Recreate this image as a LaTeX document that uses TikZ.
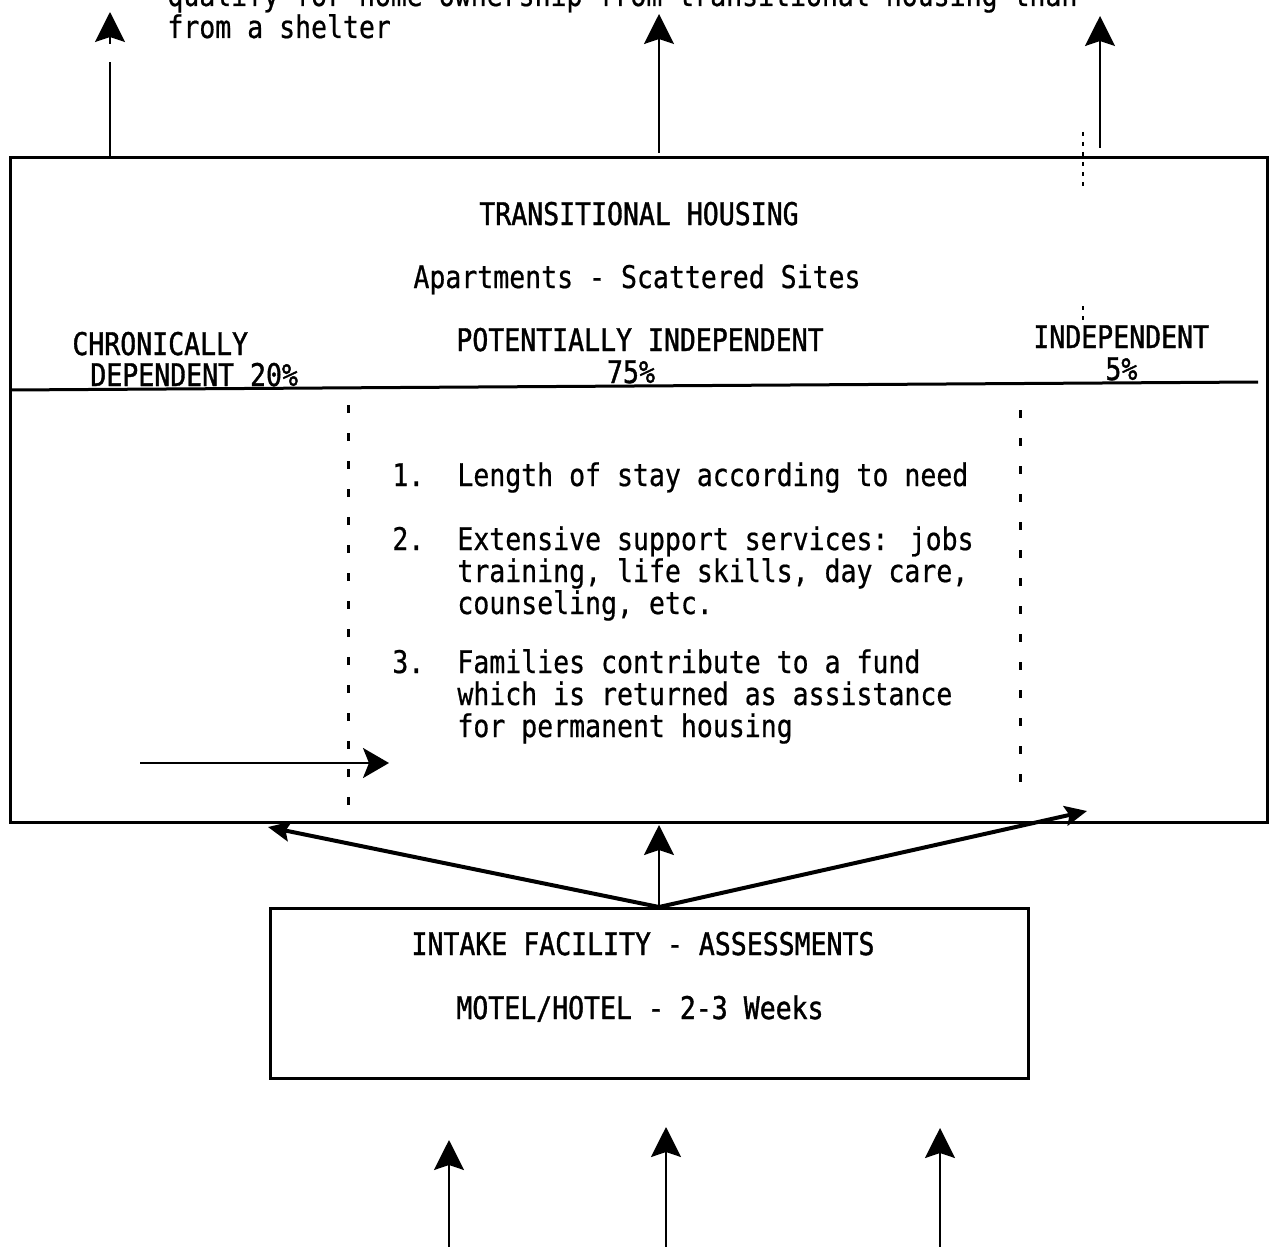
\documentclass[tikz,border=0pt]{standalone}
\usepackage{fontspec}
\usetikzlibrary{arrows.meta,fit}
\newfontfamily\tw[FakeStretch=0.85,FakeBold=0.6]{DejaVu Sans Mono}
\newfontfamily\twb[FakeStretch=0.85,FakeBold=1.2]{DejaVu Sans Mono}
\begin{document}
\begin{tikzpicture}[x=0.5pt,y=-0.5pt,
  txt/.style={font=\tw\fontsize{15.6pt}{16pt}\selectfont, inner sep=0pt, anchor=base west},
  ctxt/.style={txt, anchor=base},
  caps/.style={font=\twb\fontsize{15.6pt}{16pt}\selectfont},
  frame/.style={draw, line width=1.5pt, inner sep=0pt},
  uparrow/.style={line width=1pt, -{Stealth[length=15pt,width=15pt,inset=2.5pt]}},
  headonly/.style={line width=1pt, -{Stealth[length=15pt,width=15pt,inset=2.5pt]}},
  fanarrow/.style={line width=2pt, -{Stealth[length=11pt,width=10pt,inset=2pt]}},
  sidearrow/.style={line width=1.2pt, -{Stealth[length=13pt,width=15pt,inset=3pt]}},
  divider/.style={line width=1.5pt, dash pattern=on 4pt off 10pt},
  faint/.style={line width=1pt, dash pattern=on 2pt off 3pt}]
\clip (0,0) rectangle (1269,1247);

% top text (partly cut off, as in the reference)
\node[txt] (top1) at (167,6) {qualify for home ownership from transitional housing than};
\node[txt] (top2) at (167,38) {from a shelter};

% main box
\node[frame, fit={(10,158)(1267,822)}] (trans) {};
\node[ctxt, caps] (th) at (639,225) {TRANSITIONAL HOUSING};
\node[ctxt] (ap) at (637,288) {Apartments - Scattered Sites};
\node[txt, caps] (ch1) at (72,355) {CHRONICALLY};
\node[txt, caps] (ch2) at (90,386) {DEPENDENT 20\%};
\node[txt, caps] (pi1) at (456,351) {POTENTIALLY INDEPENDENT};
\node[ctxt, caps] (pi2) at (631,383) {75\%};
\node[txt, caps] (in1) at (1033,348) {INDEPENDENT};
\node[txt, caps] (in2) at (1105,380) {5\%};

\coordinate (hl) at (10,390);
\coordinate (hr) at (1258,382);
\draw[line width=1.5pt] (hl) -- (hr);

% dividers
\coordinate (dl1) at (348,405); \coordinate (dl2) at (348,810);
\coordinate (dr1) at (1020,410); \coordinate (dr2) at (1020,800);
\draw[divider] (dl1) -- (dl2);
\draw[divider] (dr1) -- (dr2);
\coordinate (f1) at (1083,132); \coordinate (f2) at (1083,186);
\coordinate (f3) at (1083,306); \coordinate (f4) at (1083,320);
\draw[faint] (f1) -- (f2);
\draw[faint] (f3) -- (f4);

% list
\node[txt] (n1) at (392,486) {1.};
\node[txt] (l1) at (457,486) {Length of stay according to need};
\node[txt] (n2) at (392,550) {2.};
\node[txt] (l2a) at (457,550) {Extensive support services: jobs};
\node[txt] (l2b) at (457,582) {training, life skills, day care,};
\node[txt] (l2c) at (457,614) {counseling, etc.};
\node[txt] (n3) at (392,673) {3.};
\node[txt] (l3a) at (457,673) {Families contribute to a fund};
\node[txt] (l3b) at (457,705) {which is returned as assistance};
\node[txt] (l3c) at (457,737) {for permanent housing};

% horizontal arrow
\coordinate (ha1) at (140,763);
\coordinate (ha2) at (389,763);
\draw[sidearrow] (ha1) -- (ha2);

% top arrows
\coordinate (tl0) at (110,157); \coordinate (tl1) at (110,62);
\coordinate (tl2) at (110,44); \coordinate (tl3) at (110,12);
\draw[line width=1pt] (tl0) -- (tl1);
\draw[headonly] (tl2) -- (tl3);
\coordinate (tm0) at (659,153); \coordinate (tm1) at (659,14);
\draw[uparrow] (tm0) -- (tm1);
\coordinate (tr0) at (1100,148); \coordinate (tr1) at (1100,16);
\draw[uparrow] (tr0) -- (tr1);

% intake box
\node[frame, fit={(270,908)(1028,1078)}] (intake) {};
\node[ctxt, caps] (ia) at (643,955) {INTAKE FACILITY - ASSESSMENTS};
\node[ctxt, caps] (mh) at (640,1019) {MOTEL/HOTEL - 2-3 Weeks};

% fan arrows
\coordinate (apex) at (659,907);
\coordinate (fl) at (268,827);
\coordinate (fr) at (1087,811);
\coordinate (fm) at (659,825);
\draw[fanarrow] (apex) -- (fl);
\draw[fanarrow] (apex) -- (fr);
\draw[uparrow] (apex) -- (fm);

% bottom arrows
\coordinate (b1a) at (449,1247); \coordinate (b1b) at (449,1140);
\coordinate (b2a) at (666,1247); \coordinate (b2b) at (666,1127);
\coordinate (b3a) at (940,1247); \coordinate (b3b) at (940,1128);
\draw[uparrow] (b1a) -- (b1b);
\draw[uparrow] (b2a) -- (b2b);
\draw[uparrow] (b3a) -- (b3b);
\end{tikzpicture}
\end{document}
